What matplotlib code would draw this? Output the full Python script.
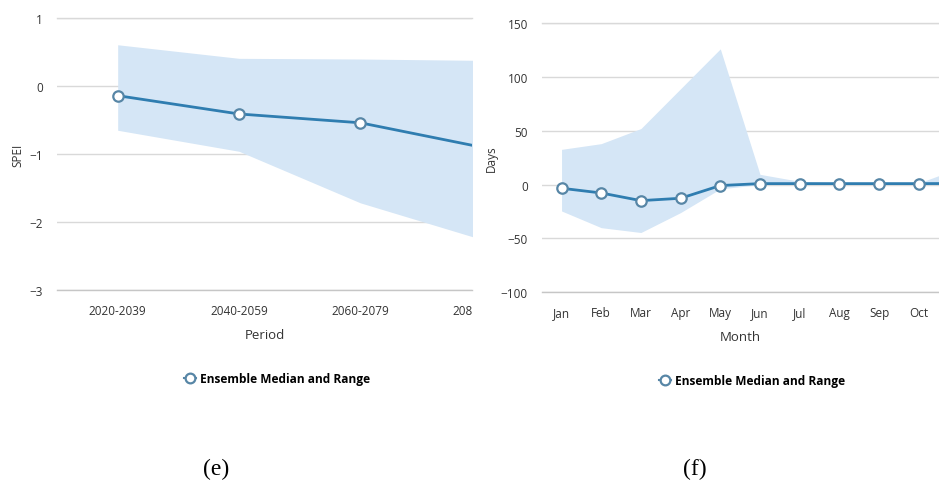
import matplotlib
matplotlib.use("Agg")
import matplotlib.pyplot as plt
import matplotlib.transforms as mtransforms
from matplotlib.lines import Line2D

plt.rcParams['font.family'] = ['Open Sans', 'DejaVu Sans']

# SPEI projections by period
periods = ['2020-2039', '2040-2059', '2060-2079', '2080-2099']
spei_median = [-0.14, -0.41, -0.54, -0.90]
spei_high = [0.61, 0.41, 0.40, 0.38]
spei_low = [-0.65, -0.96, -1.72, -2.26]

# change in days by month
months = ['Jan', 'Feb', 'Mar', 'Apr', 'May', 'Jun', 'Jul', 'Aug', 'Sep', 'Oct', 'Nov', 'Dec']
days_median = [-3.4, -7.8, -14.9, -12.7, -0.9, 0.9, 0.9, 0.9, 0.9, 0.9, 1.0, 1.0]
days_high = [32.7, 38.0, 52.0, 89.0, 126.0, 9.5, 3.0, 1.5, 1.5, 1.5, 15.0, 10.0]
days_low = [-24.5, -40.0, -44.5, -26.0, -4.0, 0.0, 0.0, 0.0, 0.0, 0.0, 0.0, 0.0]

line_col = '#2f7db0'
band_col = '#d5e6f6'
edge_col = '#5786a6'
grid_col = '#d9d9d9'
text_col = '#333333'
label_pad = 10

fig = plt.figure(figsize=(9.39, 4.81), dpi=100)
ax1 = fig.add_axes([57 / 939, 1 - 290.7 / 481, (472 - 57) / 939, (290.7 - 19.3) / 481])
ax2 = fig.add_axes([541.7 / 939, 1 - 293.3 / 481, (939 - 541.7) / 939, (293.3 - 24) / 481])


def style(ax):
    for name, s in ax.spines.items():
        if name in ('left', 'right'):
            s.set_visible(False)
        else:
            s.set_color(grid_col if name == 'top' else '#c6c6c6')
            s.set_linewidth(1)
    ax.tick_params(length=0, labelsize=8.5, colors=text_col, pad=label_pad)
    ax.yaxis.grid(True, color=grid_col, lw=1)
    ax.set_axisbelow(True)


def draw_series(ax, x, med, lo, hi):
    ax.fill_between(x, lo, hi, color=band_col, lw=0, zorder=1)
    ax.plot(x, med, color=line_col, lw=2, marker='o', ms=7.5,
            mfc='white', mec=edge_col, mew=1.6, zorder=3, clip_on=True)


# left panel: SPEI
x1 = list(range(len(periods)))
draw_series(ax1, x1, spei_median, spei_low, spei_high)
style(ax1)
ax1.set_yticks([-3, -2, -1, 0, 1])
ax1.set_xticks(x1[:3], periods[:3])
ax1.set_xlim(-0.5, 2.92)
ax1.set_ylim(-3, 1)
# last period label sits on the cut edge of the panel
trans = mtransforms.offset_copy(ax1.get_xaxis_transform(), fig=fig, y=-label_pad, units='points')
t = ax1.text(x1[3], 0, periods[3], transform=trans, ha='center', va='top',
             fontsize=8.5, color=text_col)
t.set_clip_path(None)
t.set_clip_box(mtransforms.TransformedBbox(mtransforms.Bbox([[-1, -1], [1, 2]]), ax1.transAxes))
t.set_clip_on(True)
ax1.set_xlabel('Period', fontsize=9.5, color=text_col, labelpad=8)
ax1.set_ylabel('SPEI', fontsize=8.5, color=text_col, labelpad=4)

# right panel: days
x2 = list(range(len(months)))
draw_series(ax2, x2, days_median, days_low, days_high)
style(ax2)
ax2.set_yticks([-100, -50, 0, 50, 100, 150])
ax2.set_xticks(x2, months)
ax2.set_xlim(-0.5, 9.51)
ax2.set_ylim(-100, 150)
ax2.set_xlabel('Month', fontsize=9.5, color=text_col, labelpad=8)
ax2.set_ylabel('Days', fontsize=8.5, color=text_col, labelpad=2)

handle = Line2D([], [], color=edge_col, lw=1.5, marker='o', ms=7, mfc='white', mec=edge_col, mew=1.6)
for ax, cx, cy in [(ax1, 277 / 939, 1 - 380 / 481), (ax2, 752 / 939, 1 - 382 / 481)]:
    ax.legend([handle], ['Ensemble Median and Range'], loc='center',
              bbox_to_anchor=(cx, cy), bbox_transform=fig.transFigure,
              frameon=False, handlelength=1.0, handletextpad=0.4,
              prop={'weight': 'bold', 'size': 8.6})

fig.text(216 / 939, 1 - 469 / 481, '(e)', ha='center', va='center',
         family='Liberation Serif', fontsize=17)
fig.text(695 / 939, 1 - 469 / 481, '(f)', ha='center', va='center',
         family='Liberation Serif', fontsize=17)

fig.savefig('out.png', dpi=100)
